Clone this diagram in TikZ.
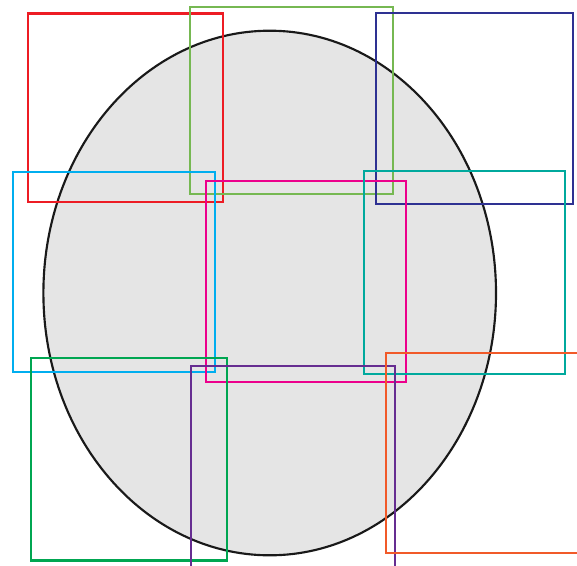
\documentclass[tikz,border=0pt]{standalone}
\usepackage{tikz}

\definecolor{boxred}{HTML}{ED1C24}
\definecolor{boxlime}{HTML}{76B852}
\definecolor{boxnavy}{HTML}{2E3192}
\definecolor{boxcyan}{HTML}{00AEEF}
\definecolor{boxmagenta}{HTML}{EC008C}
\definecolor{boxteal}{HTML}{00A99D}
\definecolor{boxgreen}{HTML}{00A651}
\definecolor{boxpurple}{HTML}{662D91}
\definecolor{boxorange}{HTML}{F15A29}
\definecolor{discgray}{HTML}{E5E5E5}

\begin{document}
\begin{tikzpicture}[x=0.75pt, y=-0.75pt,
    disc/.style={draw=black!90, fill=discgray, line width=1.6pt},
    frame/.style={line width=1.6pt}]

    \useasboundingbox (0,0) rectangle (577,565);
    \clip (0,0) rectangle (577,565);

    % grey oval behind the frames
    \draw [disc] (269.7,293) ellipse [x radius=226.3, y radius=262.3];

    % top row
    \draw [frame, draw=boxred] (28,13.5) rectangle (222.7,202.3);
    \draw [frame, draw=boxlime] (190,7) rectangle (392.7,194);
    \draw [frame, draw=boxnavy] (375.7,13.3) rectangle (573.3,203.7);

    % middle row
    \draw [frame, draw=boxcyan] (13,172.3) rectangle (215,372.3);
    \draw [frame, draw=boxmagenta] (205.7,181) rectangle (406,381.7);
    \draw [frame, draw=boxteal] (364.3,170.7) rectangle (565,374.3);

    % bottom row
    \draw [frame, draw=boxgreen] (30.7,357.7) rectangle (227.3,560.5);
    \draw [frame, draw=boxpurple] (191.3,365.7) rectangle (394.7,600);
    \draw [frame, draw=boxorange] (385.7,353) rectangle (600,553.3);
  \end{tikzpicture}
\end{document}
